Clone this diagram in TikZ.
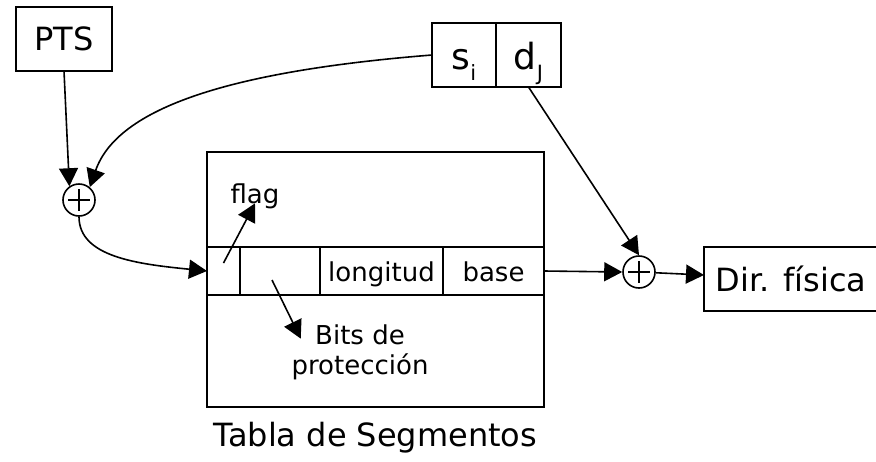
\documentclass[tikz,border=0pt]{standalone}
\usepackage{fontspec}
\setmainfont{DejaVu Sans}
\usetikzlibrary{positioning, calc, arrows.meta}

\begin{document}
\begin{tikzpicture}[x=1pt, y=-1pt, line width=1.6pt, >={Triangle[length=18pt, width=19pt]}]
        % Define block styles
        \tikzstyle{block} = [rectangle, draw, inner sep=0pt, outer sep=0pt, minimum height=64pt, font=\fontsize{32}{38}\selectfont]
        \tikzstyle{segcell} = [block, text height=36pt, text depth=7pt, font=\fontsize{36}{40}\selectfont]
        \tikzstyle{cell} = [rectangle, draw, inner sep=0pt, outer sep=0pt, minimum height=48pt, text height=21pt, text depth=0pt, font=\fontsize{26}{30}\selectfont]
        \tikzstyle{note} = [inner sep=0pt, align=center, font=\fontsize{26}{30}\selectfont]
        \tikzstyle{adder} = [circle, draw, inner sep=0pt, minimum size=32pt,
            path picture={\draw ([yshift=-5pt]path picture bounding box.north) -- ([yshift=5pt]path picture bounding box.south)
                ([xshift=5pt]path picture bounding box.west) -- ([xshift=-5pt]path picture bounding box.east);}]

        \useasboundingbox (0,0) rectangle (876,461);

        % Place nodes
        \node [block, minimum width=96pt] (pts) at (64,39) {PTS};
        \node [segcell, minimum width=64pt] (si) at (464,55) {s\raisebox{-11pt}{\fontsize{21}{21}\selectfont i}};
        \node [segcell, minimum width=65pt, right=0pt of si] (dj) {d\raisebox{-11pt}{\fontsize{21}{21}\selectfont J}};
        \node [adder] (sum1) at (79,200) {};
        \node [block, minimum width=337pt, minimum height=255pt] (tabla) at (375.5,279.5) {};
        \node [cell, minimum width=33pt] (flagcell) at (223.5,271) {};
        \node [cell, minimum width=80pt, right=0pt of flagcell] (bitscell) {};
        \node [cell, minimum width=123pt, right=0pt of bitscell] (longcell) {longitud};
        \node [cell, minimum width=101pt, right=0pt of longcell] (basecell) {base};
        \node [note] (flag) at (255,196) {flag};
        \node [note] (bits) at (360,352) {Bits de\\protección};
        \node [note, font=\fontsize{32}{38}\selectfont, below=14pt of tabla] (title) {Tabla de Segmentos};
        \node [adder] (sum2) at (639,272) {};
        \node [block, minimum width=174pt] (dir) at (791,279) {Dir. física};

        % Draw connections as arrows
        \draw [->] (pts.south) -- (sum1.125);
        \draw [->] (si.west) .. controls +(-200,16) and +(28,-80) .. (sum1.50);
        \draw [->] (sum1.south) .. controls +(0,40) and +(-70,-7) .. (flagcell.west);
        \draw [->] ([yshift=8pt]flagcell.center) -- ([yshift=6pt]flag.south);
        \draw [->] ([xshift=-8pt, yshift=-9pt]bitscell.center) -- ([xshift=10pt, yshift=-15pt]bits.north west);
        \draw [->] (dj.south) -- (sum2.north);
        \draw [->] (basecell.east) -- (sum2.west);
        \draw [->] (sum2) -- (dir);
    \end{tikzpicture}
\end{document}
